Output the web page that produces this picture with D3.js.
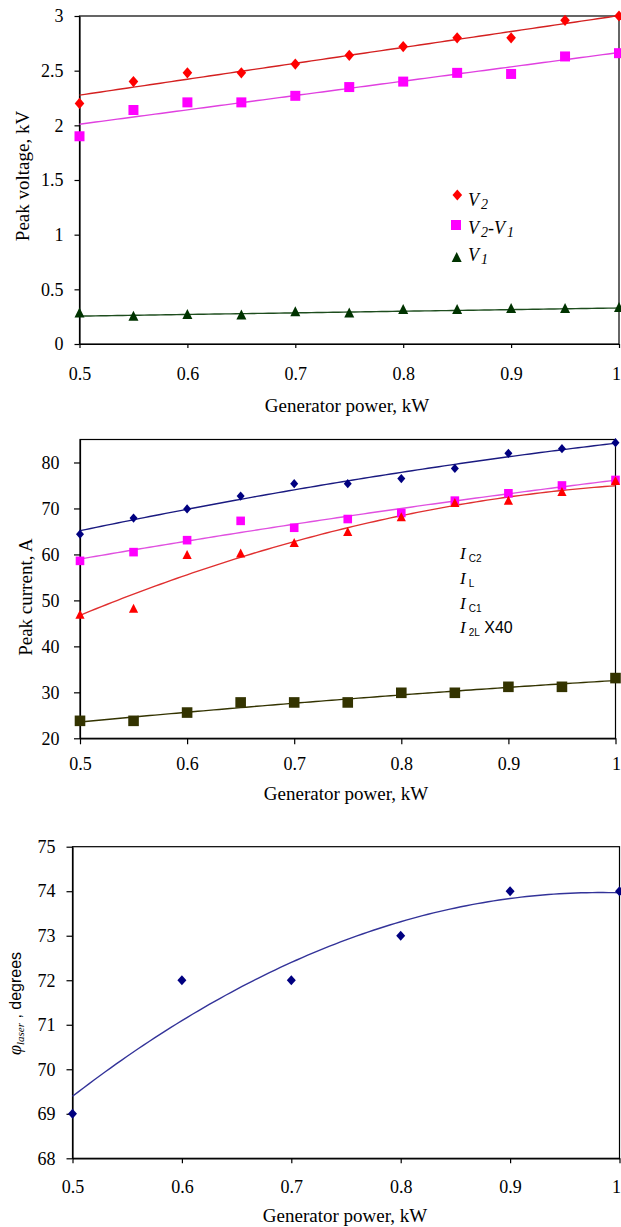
<!DOCTYPE html>
<html><head><meta charset="utf-8">
<script src="https://cdn.jsdelivr.net/npm/d3@7"></script>
<style>
html,body{margin:0;padding:0;background:#fff;}
svg{display:block;}
text{font-family:"Liberation Serif","Times New Roman",serif;fill:#000;}
</style></head><body>
<svg id="c" width="621" height="1227"></svg>
<script>
// ---------- data ----------
const powerX = [0.5,0.55,0.6,0.65,0.7,0.75,0.8,0.85,0.9,0.95,1.0];
const v2 = [2.20,2.40,2.48,2.48,2.56,2.64,2.72,2.80,2.80,2.96,3.00];
const v2MinusV1 = [1.90,2.14,2.21,2.21,2.27,2.35,2.40,2.48,2.47,2.63,2.66];
const v1 = [0.28,0.25,0.265,0.26,0.29,0.28,0.31,0.31,0.32,0.32,0.33];
const iC2 = [64.4,67.9,69.9,72.7,75.4,75.4,76.5,78.7,82.0,83.0,84.3];
const iL = [58.6,60.5,63.1,67.3,65.8,67.7,69.0,71.7,73.3,75.0,76.2];
const iC1 = [46.8,48.1,59.8,60.1,62.4,64.8,68.0,71.1,71.6,73.5,75.9];
const i2Lx40 = [23.8,23.8,25.6,27.8,27.8,27.8,29.9,29.9,31.2,31.2,33.1];
const phaseX = [0.5,0.6,0.7,0.8,0.9,1.0];
const phiLaser = [69,72,72,73,74,74];
const xTickValues = [0.5,0.6,0.7,0.8,0.9,1];
const voltTicks = [0,0.5,1,1.5,2,2.5,3];
const currentTicks = [20,30,40,50,60,70,80];
const phiTicks = [68,69,70,71,72,73,74,75];
const xTitle = "Generator power, kW";

// ---------- helpers ----------
const svg = d3.select("#c");
const W = 621;

function polyfit(xs, ys, deg){
  const n = deg + 1;
  const A = Array.from({length:n}, () => Array(n+1).fill(0));
  xs.forEach((xv, i) => {
    for (let r = 0; r < n; r++){
      for (let c = 0; c < n; c++) A[r][c] += Math.pow(xv, r + c);
      A[r][n] += ys[i] * Math.pow(xv, r);
    }
  });
  for (let k = 0; k < n; k++){
    let p = k;
    for (let r = k+1; r < n; r++) if (Math.abs(A[r][k]) > Math.abs(A[p][k])) p = r;
    [A[k], A[p]] = [A[p], A[k]];
    for (let r = 0; r < n; r++){
      if (r === k) continue;
      const f = A[r][k] / A[k][k];
      for (let c = k; c <= n; c++) A[r][c] -= f * A[k][c];
    }
  }
  const coef = A.map((row, i) => row[n] / row[i]);
  return xv => coef.reduce((s, c, i) => s + c * Math.pow(xv, i), 0);
}

function shape(kind, a, b){
  if (kind === "diamond") return `M0,${-b}L${a},0L0,${b}L${-a},0Z`;
  if (kind === "square") return `M${-a},${-a}h${2*a}v${2*a}h${-2*a}Z`;
  if (kind === "triangle") return `M0,${-b*0.6}L${a},${b*0.4}L${-a},${b*0.4}Z`;
}

function panel(cfg){
  const g = svg.append("g");
  const x = d3.scaleLinear().domain([0.5,1]).range([cfg.left, cfg.right]);
  const y = d3.scaleLinear().domain(cfg.yDomain).range([cfg.bottom, cfg.top]);

  g.append("rect").attr("x", cfg.left).attr("y", cfg.top)
    .attr("width", cfg.right - cfg.left).attr("height", cfg.bottom - cfg.top)
    .attr("fill", "none").attr("stroke", "#000").attr("stroke-width", 1.2);

  const ax = g.append("g").attr("transform", `translate(0,${cfg.bottom})`)
    .call(d3.axisBottom(x).tickValues(xTickValues).tickFormat(d => String(d))
      .tickSizeInner(cfg.xTick).tickSizeOuter(0));
  ax.select(".domain").attr("stroke-width", 1.2);
  ax.selectAll("text").attr("y", cfg.xLabelBase - cfg.bottom).attr("dy", null)
    .style("font-family", '"Liberation Serif",serif').style("font-size", "18px");
  // keep the last label ("1") inside the page edge
  ax.selectAll(".tick").filter(d => d === 1).select("text")
    .attr("text-anchor", "end").attr("x", W - 0.5 - x(1));

  const ay = g.append("g").attr("transform", `translate(${cfg.left},0)`)
    .call(d3.axisLeft(y).tickValues(cfg.yTicks).tickFormat(d => String(d))
      .tickSizeInner(cfg.yTick).tickSizeOuter(0).tickPadding(cfg.yPad));
  ay.select(".domain").attr("stroke-width", 1.2);
  ay.selectAll("text").style("font-family", '"Liberation Serif",serif').style("font-size", "18px");
  g.selectAll(".tick line").attr("stroke-width", 1.2);

  g.append("text").attr("x", cfg.xTitleX).attr("y", cfg.xTitleBase)
    .attr("text-anchor", "middle").style("font-size", "19px").text(xTitle);

  const samples = d3.range(0, 101).map(i => 0.5 + i * 0.005);
  cfg.series.forEach(s => {
    const f = polyfit(cfg.xs, s.values, s.deg);
    g.append("path").attr("d", d3.line().x(d => x(d)).y(d => y(f(d)))(samples))
      .attr("fill", "none").attr("stroke", s.line).attr("stroke-width", 1.4);
  });
  cfg.series.forEach(s => {
    g.append("g").selectAll("path").data(s.values).join("path")
      .attr("transform", (d, i) => `translate(${x(cfg.xs[i])},${y(d)})`)
      .attr("d", shape(s.shape, s.a, s.b)).attr("fill", s.color);
  });
  return g;
}

// ---------- chart 1 ----------
const g1 = panel({
  left: 79.5, right: 619, top: 16, bottom: 344, yDomain: [0,3], yTicks: voltTicks,
  xTick: 4, yTick: 5, yPad: 11, xLabelBase: 380, xTitleX: 347, xTitleBase: 412,
  xs: powerX,
  series: [
    {values: v2, deg: 1, shape: "diamond", a: 4.8, b: 5.6, color: "#ff0000", line: "#d42020"},
    {values: v2MinusV1, deg: 1, shape: "square", a: 5, color: "#ff00ff", line: "#e040e0"},
    {values: v1, deg: 1, shape: "triangle", a: 5, b: 10, color: "#003300", line: "#1e4d1e"}
  ]
});
g1.append("text").attr("transform", "translate(29,176) rotate(-90)").attr("text-anchor", "middle")
  .style("font-size", "19px").text("Peak voltage, kV");

const leg1 = g1.append("g");
leg1.append("path").attr("transform", "translate(457.3,195)").attr("d", shape("diamond", 4.8, 5.6)).attr("fill", "#ff0000");
leg1.append("path").attr("transform", "translate(456,225)").attr("d", shape("square", 5)).attr("fill", "#ff00ff");
leg1.append("path").attr("transform", "translate(456.7,258)").attr("d", shape("triangle", 5, 10)).attr("fill", "#003300");
function vLabel(sel, parts){
  parts.forEach(p => {
    const t = sel.append("tspan").text(p.t).style("font-style", "italic");
    if (p.sub) t.style("font-size", "14px").attr("dy", 3).attr("dx", 2);
    else t.style("font-size", "18px").attr("dy", p.back ? -3 : 0);
  });
}
vLabel(leg1.append("text").attr("x", 468).attr("y", 206), [{t:"V"},{t:"2", sub:true}]);
vLabel(leg1.append("text").attr("x", 468).attr("y", 234), [{t:"V"},{t:"2", sub:true},{t:"-", back:true},{t:"V"},{t:"1", sub:true}]);
vLabel(leg1.append("text").attr("x", 468).attr("y", 261), [{t:"V"},{t:"1", sub:true}]);

// ---------- chart 2 ----------
const g2 = panel({
  left: 80, right: 615.5, top: 439.5, bottom: 738.3, yDomain: [20,85], yTicks: currentTicks,
  xTick: 6, yTick: 6, yPad: 14.5, xLabelBase: 770, xTitleX: 346, xTitleBase: 800,
  xs: powerX,
  series: [
    {values: iC2, deg: 2, shape: "diamond", a: 4, b: 4.6, color: "#000080", line: "#1a1a80"},
    {values: iL, deg: 2, shape: "square", a: 4.3, color: "#ff00ff", line: "#e050e0"},
    {values: iC1, deg: 2, shape: "triangle", a: 4.6, b: 9, color: "#ff0000", line: "#e03030"},
    {values: i2Lx40, deg: 2, shape: "square", a: 5.3, color: "#333300", line: "#333300"}
  ]
});
g2.append("text").attr("transform", "translate(32,597) rotate(-90)").attr("text-anchor", "middle")
  .style("font-size", "19px").text("Peak current, A");

const leg2 = g2.append("g");
const leg2Items = [["C2", "", 559], ["L", "", 584], ["C1", "", 609], ["2L", " X40", 633]];
leg2Items.forEach(([sub, extra, yb]) => {
  const t = leg2.append("text").attr("x", 460).attr("y", yb);
  t.append("tspan").text("I").style("font-style", "italic").style("font-size", "17px");
  t.append("tspan").text(sub).attr("dx", 3).attr("dy", 3)
    .style("font-family", '"Liberation Sans",sans-serif').style("font-size", "10px");
  if (extra) t.append("tspan").text(extra).attr("dy", -3)
    .style("font-family", '"Liberation Sans",sans-serif').style("font-size", "16px");
});

// ---------- chart 3 ----------
const g3 = panel({
  left: 72.5, right: 619.5, top: 846.7, bottom: 1158.3, yDomain: [68,75], yTicks: phiTicks,
  xTick: 5, yTick: 6, yPad: 11, xLabelBase: 1193, xTitleX: 345, xTitleBase: 1222,
  xs: phaseX,
  series: [
    {values: phiLaser, deg: 2, shape: "diamond", a: 4.5, b: 5, color: "#000080", line: "#333399"}
  ]
});
const t3 = g3.append("text").attr("transform", "translate(21,1055) rotate(-90)").attr("text-anchor", "start");
t3.append("tspan").text("φ").style("font-style", "italic").style("font-size", "18px");
t3.append("tspan").text("laser").attr("dy", 3).style("font-style", "italic").style("font-size", "11px");
t3.append("tspan").text(" , degrees").attr("dy", -3)
  .style("font-family", '"Liberation Sans",sans-serif').style("font-size", "16px");
</script>
</body></html>
